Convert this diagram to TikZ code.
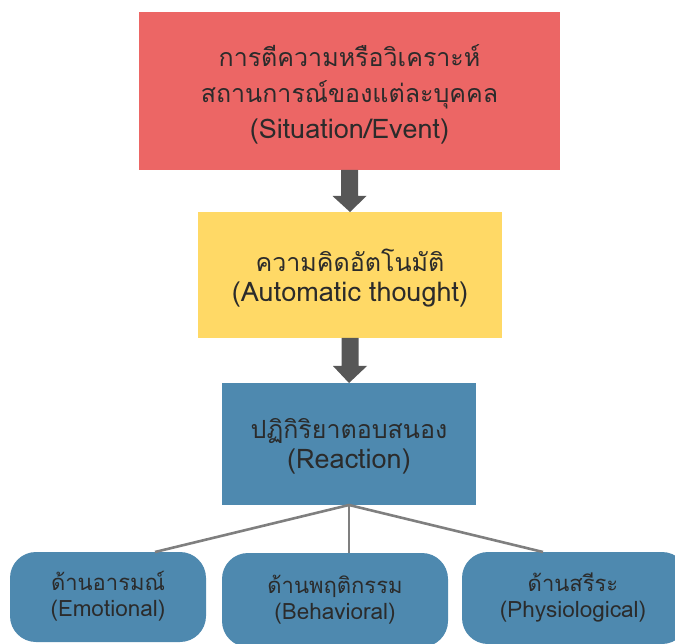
\documentclass[tikz,border=0pt]{standalone}
\usepackage{fontspec}
\newfontfamily\thaifont[Script=Thai]{Loma}
\definecolor{redbox}{HTML}{EC6665}
\definecolor{yelbox}{HTML}{FFD966}
\definecolor{bluebox}{HTML}{4E89AF}
\definecolor{txt}{HTML}{2B2B2B}
\definecolor{arrowc}{HTML}{575757}
\definecolor{linec}{HTML}{7F7F7F}
\newcommand{\latbig}[1]{{\fontsize{27}{36}\selectfont #1}}
\newcommand{\latsmall}[1]{{\fontsize{22.5}{27}\selectfont #1}}
\tikzset{
  box/.style={inner sep=0pt, outer sep=0pt, align=center, text=txt},
  bigtext/.style={font=\thaifont\fontsize{25}{36}\selectfont},
  midtext/.style={font=\thaifont\fontsize{25}{30}\selectfont},
  smalltext/.style={font=\thaifont\fontsize{22}{26}\selectfont},
  leaf/.style={box, rounded corners=26pt, fill=bluebox},
  blockarrow/.style={fill=arrowc, draw=none},
  conn/.style={draw=linec, line width=2.6pt}
}
\begin{document}
\begin{tikzpicture}[x=1pt,y=-1pt]
\useasboundingbox (0,0) rectangle (675,644);
% boxes
\node[box, fill=redbox, minimum width=421pt, minimum height=158pt] (sit) at (349.5,91) {};
\node[box, bigtext, text width=421pt] (sitt) at (349.5,94) {การตีความหรือวิเคราะห์\\สถานการณ์ของแต่ละบุคคล\\\latbig{(Situation/Event)}};
\node[box, fill=yelbox, minimum width=304pt, minimum height=126pt] (auto) at (350,275) {};
\node[box, midtext, text width=304pt] (autot) at (350,278) {ความคิดอัตโนมัติ\\\latbig{(Automatic thought)}};
\node[box, fill=bluebox, minimum width=254pt, minimum height=122pt] (react) at (349,444) {};
\node[box, midtext, text width=254pt] (reactt) at (349,446) {ปฏิกิริยาตอบสนอง\\\latbig{(Reaction)}};
% leaves
\node[leaf, minimum width=196pt, minimum height=90pt] (emo) at (108,597) {};
\node[box, smalltext] (emot) at (108,596) {ด้านอารมณ์\\\latsmall{(Emotional)}};
\node[leaf, minimum width=226pt, minimum height=94pt] (beh) at (335,600) {};
\node[box, smalltext] (beht) at (335,600) {ด้านพฤติกรรม\\\latsmall{(Behavioral)}};
\node[leaf, minimum width=226pt, minimum height=92pt] (phy) at (575,598) {};
\node[box, smalltext] (phyt) at (573,598) {ด้านสรีระ\\\latsmall{(Physiological)}};
% block arrows
\coordinate (a1) at (sit.south);
\fill[blockarrow] ([xshift=-8.5pt]a1) -- ([xshift=8.5pt]a1) -- ([xshift=8.5pt,yshift=-26pt]a1) -- ([xshift=17pt,yshift=-26pt]a1) -- (auto.north) -- ([xshift=-17pt,yshift=-26pt]a1) -- ([xshift=-8.5pt,yshift=-26pt]a1) -- cycle;
\coordinate (a2) at (auto.south);
\fill[blockarrow] ([xshift=-8.5pt]a2) -- ([xshift=8.5pt]a2) -- ([xshift=8.5pt,yshift=-28pt]a2) -- ([xshift=17pt,yshift=-28pt]a2) -- (react.north) -- ([xshift=-17pt,yshift=-28pt]a2) -- ([xshift=-8.5pt,yshift=-28pt]a2) -- cycle;
% connectors
\coordinate (hub) at (react.south);
\draw[conn] (hub) -- ([xshift=47pt]emo.north);
\draw[conn] (hub) -- (hub |- beh.north);
\draw[conn] (hub) -- ([xshift=-32pt]phy.north);
\end{tikzpicture}
\end{document}
